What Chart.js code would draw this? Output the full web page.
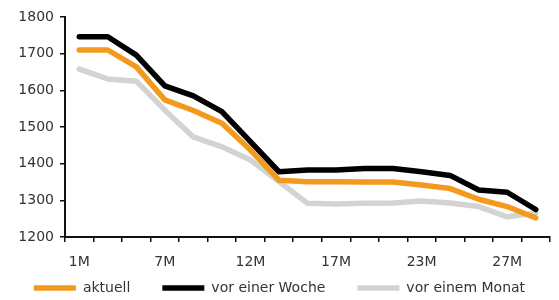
<!DOCTYPE html>
<html><head><meta charset="utf-8">
<script src="https://cdn.jsdelivr.net/npm/chart.js@4"></script>
<style>html,body{margin:0;padding:0;background:#fff;}</style>
</head><body>
<canvas id="c" width="559" height="300"></canvas>
<script>
const tickLabels = ["1M","","","7M","","","12M","","","17M","","","23M","","","27M",""];
const seriesNames = ["aktuell","vor einer Woche","vor einem Monat"];
const aktuell  = [1710,1710,1664,1574,1545,1510,1437,1355,1351,1351,1350,1350,1342,1332,1303,1283,1252];
const vorWoche = [1746,1746,1696,1612,1585,1542,1460,1378,1383,1383,1387,1387,1378,1368,1328,1322,1275];
const vorMonat = [1658,1631,1625,1546,1473,1446,1410,1351,1292,1290,1292,1293,1298,1293,1283,1255,1265];
const yMin = 1200, yMax = 1800, yStep = 100;
const colors = ["#f39a1e","#000000","#d3d3d3"];

Chart.defaults.font.family = "'DejaVu Sans', sans-serif";
Chart.defaults.font.size = 14;
Chart.defaults.color = "#333";

function ds(label, data, color){
  return {label, data, borderColor: color, backgroundColor: color, borderWidth: 5.5, yAxisID: 'y',
    pointRadius: 0, tension: 0, borderCapStyle: 'round', borderJoinStyle: 'round', fill: false};
}

const LEGEND_PAD = 32;
const legendShift = {
  id: 'legendShift',
  afterLayout(chart) {
    // place the legend row so its text centre sits at y = 288
    chart.legend.top = 288 - 7 - LEGEND_PAD;
  }
};

new Chart(document.getElementById('c'), {
  type: 'line',
  data: {
    labels: tickLabels,
    datasets: [ds(seriesNames[0], aktuell, colors[0]), ds(seriesNames[1], vorWoche, colors[1]), ds(seriesNames[2], vorMonat, colors[2])]
  },
  plugins: [legendShift],
  options: {
    responsive: false,
    animation: false,
    events: [],
    layout: {padding: {top: 17, right: 0, left: 0, bottom: 0}},
    plugins: {
      tooltip: {enabled: false},
      legend: {
        position: 'bottom',
        maxHeight: 27,
        labels: {usePointStyle: true, pointStyle: 'line', pointStyleWidth: 42, padding: LEGEND_PAD, color: '#333'}
      }
    },
    scales: {
      x: {
        type: 'category',
        offset: true,
        afterFit: s => { s.height = 36; },
        grid: {offset: true, drawOnChartArea: false, drawTicks: true, tickLength: 5, color: '#111', lineWidth: 1.5},
        border: {display: true, color: '#111', width: 2},
        ticks: {autoSkip: false, maxRotation: 0, padding: 12, color: '#333'}
      },
      y: {
        min: yMin, max: yMax,
        afterFit: s => { s.width = 65; },
        grid: {drawOnChartArea: false, drawTicks: true, tickLength: 5, color: '#111', lineWidth: 1.5},
        border: {display: true, color: '#111', width: 2},
        ticks: {stepSize: yStep, padding: 6, color: '#333', callback: v => String(v)}
      },
      yRight: {
        position: 'right',
        afterFit: s => { s.width = 9; },
        grid: {display: false},
        border: {display: false},
        ticks: {display: false}
      }
    }
  }
});
</script>
</body></html>
